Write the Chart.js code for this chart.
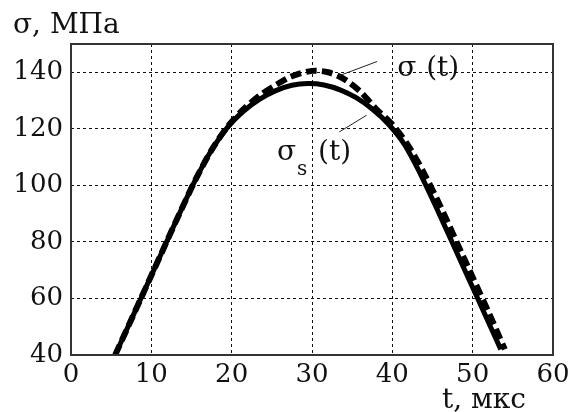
<!DOCTYPE html>
<html>
<head>
<meta charset="utf-8">
<script src="https://cdn.jsdelivr.net/npm/chart.js@4"></script>
<style>
  html, body { margin: 0; padding: 0; background: #fff; }
  #wrap { width: 568px; height: 412px; }
</style>
</head>
<body>
<div id="wrap"><canvas id="stressChart" width="568" height="412"></canvas></div>
<script>
// time, мкс  /  stress, МПа
const tSolid = [5.5, 7.5, 9.5, 11.5, 13.5, 15.5, 17.5, 19.5, 21.5, 23.5, 25.5, 27.5, 29.5,
                31.5, 33.5, 35.5, 37.5, 39.5, 41.5, 43.5, 45.5, 47.5, 49.5, 51.5, 53.5];
const sigmaS = [40, 52.5, 65, 77.5, 90, 102, 112.5, 120.6, 126.3, 130.5, 133.5, 135.4, 136,
                135.5, 133.8, 131, 127, 121.7, 114.5, 104, 92, 79.5, 67, 54.5, 42];

const tDashed = [5.5, 7.5, 9.5, 11.5, 13.5, 15.5, 17.5, 19.5, 21.5, 23.5, 25.5, 27.5, 30,
                 32, 34, 36, 38, 40, 42, 44, 46, 48, 50, 52, 54];
const sigma = [40, 52.5, 65, 77.5, 90, 102, 112.5, 120.8, 127, 131.8, 135.5, 138.6, 140.5,
               140, 137.6, 133.2, 127, 121.5, 114, 104, 92.5, 80, 67.5, 55, 42];

const xTicks = [0, 10, 20, 30, 40, 50, 60];
const yTicks = [40, 60, 80, 100, 120, 140];

const serif = "DejaVu Serif";

function toPoints(xs, ys) {
    return xs.map((x, i) => ({ x: x, y: ys[i] }));
}

// frame, axis titles and curve labels
const extras = {
    id: "extras",
    afterDatasetsDraw(chart) {
        const ctx = chart.ctx;
        const a = chart.chartArea;
        const xs = chart.scales.x;
        const ys = chart.scales.y;
        const px = v => xs.getPixelForValue(v);
        const py = v => ys.getPixelForValue(v);

        ctx.save();
        ctx.strokeStyle = "#333";
        ctx.lineWidth = 2;
        ctx.strokeRect(a.left, a.top, a.right - a.left, a.bottom - a.top);

        // leader lines
        ctx.strokeStyle = "#222";
        ctx.lineWidth = 1;
        ctx.beginPath();
        ctx.moveTo(px(33.4), py(138.8));
        ctx.lineTo(px(38.1), py(143.8));
        ctx.moveTo(px(33.4), py(118.9));
        ctx.lineTo(px(36.8), py(124.8));
        ctx.stroke();

        ctx.fillStyle = "#111";
        ctx.textBaseline = "alphabetic";
        ctx.textAlign = "left";
        ctx.font = "28px " + serif;
        ctx.fillText("σ, МПа", 13, 33);
        ctx.fillText("t, мкс", 442, 408);

        // σ (t)
        let x0 = px(40.6), y0 = py(138.6);
        ctx.fillText("σ", x0, y0);
        ctx.fillText("(t)", x0 + 29, y0);

        // σs(t)
        x0 = px(25.65); y0 = py(108.9);
        ctx.fillText("σ", x0, y0);
        ctx.font = "20px " + serif;
        ctx.fillText("s", x0 + 20, y0 + 15);
        ctx.font = "28px " + serif;
        ctx.fillText("(t)", x0 + 41, y0);
        ctx.restore();
    }
};

new Chart(document.getElementById("stressChart"), {
    type: "scatter",
    data: {
        datasets: [
            {
                label: "σs(t)",
                data: toPoints(tSolid, sigmaS),
                showLine: true,
                borderColor: "#000",
                borderWidth: 5,
                pointRadius: 0,
                tension: 0.3,
                fill: false
            },
            {
                label: "σ(t)",
                data: toPoints(tDashed, sigma),
                showLine: true,
                borderColor: "#000",
                borderWidth: 6,
                borderDash: [11, 5],
                pointRadius: 0,
                tension: 0.3,
                fill: false
            }
        ]
    },
    options: {
        responsive: false,
        animation: false,
        layout: { padding: { left: 0, top: 44, right: 15, bottom: 0 } },
        plugins: {
            legend: { display: false },
            tooltip: { enabled: false }
        },
        scales: {
            x: {
                type: "linear",
                min: 0,
                max: 60,
                afterBuildTicks: s => { s.ticks = xTicks.map(v => ({ value: v })); },
                afterFit: s => {
                    s.height = 57;
                    s.paddingLeft = 0;
                    s.paddingRight = 0;
                },
                grid: { color: "#111", lineWidth: 1, drawTicks: false },
                border: { display: false, dash: [3, 3] },
                ticks: {
                    color: "#111",
                    padding: 5,
                    maxRotation: 0,
                    font: { family: serif, size: 26 }
                }
            },
            y: {
                type: "linear",
                min: 40,
                max: 150,
                afterBuildTicks: s => { s.ticks = yTicks.map(v => ({ value: v })); },
                afterFit: s => {
                    s.width = 71;
                    s.paddingTop = 0;
                    s.paddingBottom = 0;
                },
                grid: { color: "#111", lineWidth: 1, drawTicks: false },
                border: { display: false, dash: [3, 3] },
                ticks: {
                    color: "#111",
                    padding: 8,
                    font: { family: serif, size: 26 }
                }
            }
        }
    },
    plugins: [extras]
});
</script>
</body>
</html>
